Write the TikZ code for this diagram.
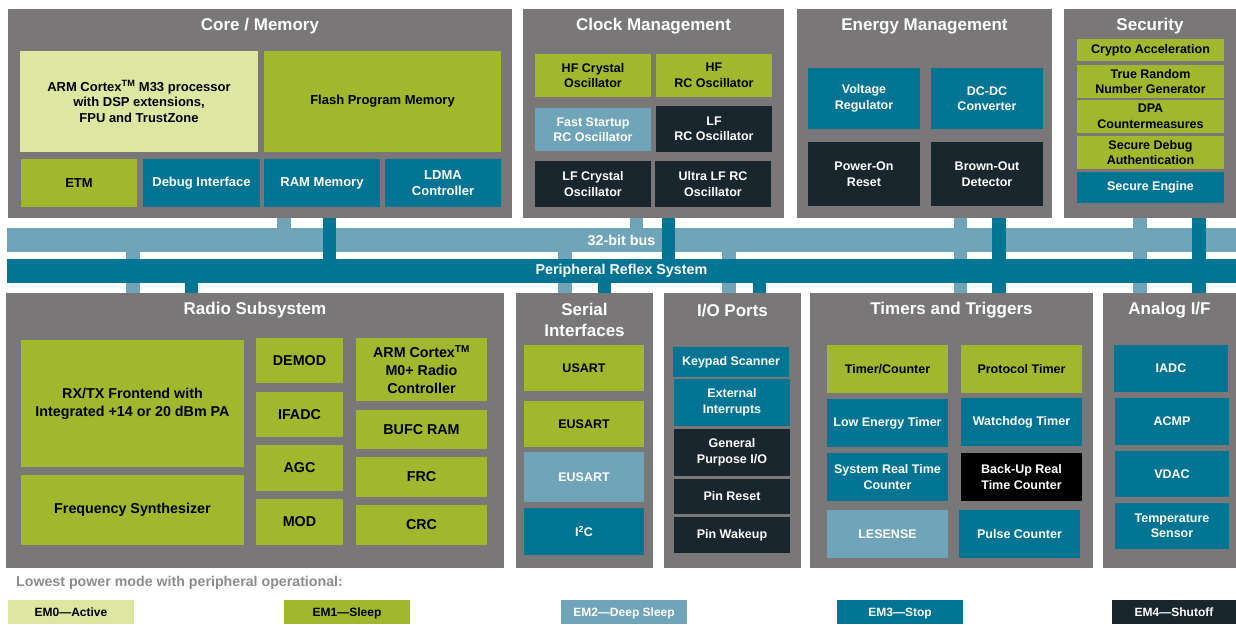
\documentclass[tikz,border=0pt]{standalone}
\usepackage{fontspec}
\setmainfont{Liberation Sans}
\usetikzlibrary{calc}

\definecolor{panelgray}{RGB}{122,119,120}
\definecolor{emzerocol}{RGB}{221,231,161}
\definecolor{emonecol}{RGB}{161,183,46}
\definecolor{emtwocol}{RGB}{112,164,185}
\definecolor{emthreecol}{RGB}{0,117,147}
\definecolor{emfourcol}{RGB}{26,38,46}
\definecolor{legendgray}{RGB}{140,140,140}

\tikzstyle{panel}=[rectangle,fill=panelgray,inner sep=0pt,outer sep=0pt,anchor=north west]
\tikzstyle{paneltitle}=[text=white,font=\bfseries\fontsize{17}{21}\selectfont,align=center,inner sep=0pt]
\tikzstyle{blk}=[rectangle,inner sep=0pt,outer sep=0pt,anchor=north west,align=center,font=\bfseries\fontsize{12.5}{15.5}\selectfont]
\tikzstyle{radiotext}=[font=\bfseries\fontsize{14.3}{18}\selectfont]
\tikzstyle{coretext}=[font=\bfseries\fontsize{13}{15.5}\selectfont]
\tikzstyle{em0}=[fill=emzerocol,text=black]
\tikzstyle{em1}=[fill=emonecol,text=black]
\tikzstyle{em2}=[fill=emtwocol,text=white]
\tikzstyle{em3}=[fill=emthreecol,text=white]
\tikzstyle{em4}=[fill=emfourcol,text=white]
\tikzstyle{em5}=[fill=black,text=white]
\tikzstyle{bus}=[rectangle,inner sep=0pt,outer sep=0pt,anchor=north west,text=white,font=\bfseries\fontsize{14.3}{16}\selectfont]
\tikzstyle{lightlink}=[draw=emtwocol,line width=13.5pt]
\tikzstyle{teallink}=[draw=emthreecol,line width=13.5pt]
\tikzstyle{legendhead}=[text=legendgray,font=\bfseries\fontsize{14.2}{16}\selectfont,anchor=west,inner sep=0pt]
\tikzstyle{legendbox}=[blk,font=\bfseries\fontsize{12}{14}\selectfont,text height=9pt,text depth=0.5pt,minimum height=24pt]

\begin{document}
\begin{tikzpicture}[x=1pt,y=-1pt]
    \useasboundingbox (0,0) rectangle (1236,624);

    % Grey group panels, upper row then lower row
    \foreach \xa/\ya/\xb/\yb/\name in {8/9/512/218/core, 523/9/784/218/clock, 797/9/1052/218/energy, 1064/9/1236/218/security,
        6/293/504/568/radio, 516/293/653/568/serial, 664/293/801/568/io, 810/293/1093/568/timers, 1103/293/1236/568/analog}
        \node[panel,minimum width={(\xb-\xa)*1pt},minimum height={(\yb-\ya)*1pt}] (\name) at (\xa,\ya) {};

    \foreach \name/\title in {core/{Core / Memory}, clock/{Clock Management}, energy/{Energy Management}, security/{Security},
        radio/{Radio Subsystem}, io/{I/O Ports}, timers/{Timers and Triggers}, analog/{Analog I/F}}
        \node[paneltitle] (\name title) at ([yshift=-17.5pt]\name.north) {\title};
    \node[paneltitle] (serialtitle) at ([yshift=-27pt]serial.north) {Serial\\Interfaces};

    % Core / Memory
    \foreach \xa/\ya/\xb/\yb/\sty/\name/\label in {
        20/51/258/152/em0/arm/{ARM Cortex\textsuperscript{TM} M33 processor\\with DSP extensions,\\FPU and TrustZone},
        264/51/501/152/em1/flash/{Flash Program Memory},
        21/159/137/207/em1/etm/{ETM},
        143/159/260/207/em3/debug/{Debug Interface},
        264/159/380/207/em3/ram/{RAM Memory},
        385/159/501/207/em3/ldma/{LDMA\\Controller}}
        \node[blk,coretext,\sty,minimum width={(\xb-\xa)*1pt},minimum height={(\yb-\ya)*1pt}] (\name) at (\xa,\ya) {\label};

    % Clock Management
    \foreach \xa/\ya/\xb/\yb/\sty/\name/\label in {
        535/54/651/97/em1/hfxo/{HF Crystal\\Oscillator},
        656/54/772/97/em1/hfrco/{HF\\RC Oscillator},
        535/108/651/151/em2/fsrco/{Fast Startup\\RC Oscillator},
        656/106/772/152/em4/lfrco/{LF\\RC Oscillator},
        535/161/651/207/em4/lfxo/{LF Crystal\\Oscillator},
        655/161/771/207/em4/ulfrco/{Ultra LF RC\\Oscillator}}
        \node[blk,\sty,minimum width={(\xb-\xa)*1pt},minimum height={(\yb-\ya)*1pt}] (\name) at (\xa,\ya) {\label};

    % Energy Management
    \foreach \xa/\ya/\xb/\yb/\sty/\name/\label in {
        808/68/920/129/em3/vreg/{Voltage\\Regulator},
        931/68/1043/129/em3/dcdc/{DC-DC\\Converter},
        808/142/920/206/em4/por/{Power-On\\Reset},
        931/142/1043/206/em4/bod/{Brown-Out\\Detector}}
        \node[blk,\sty,minimum width={(\xb-\xa)*1pt},minimum height={(\yb-\ya)*1pt}] (\name) at (\xa,\ya) {\label};

    % Security
    \foreach \xa/\ya/\xb/\yb/\sty/\name/\label in {
        1077/39/1224/61/em1/crypto/{Crypto Acceleration},
        1077/65/1224/98/em1/trng/{True Random\\Number Generator},
        1077/100/1224/133/em1/dpa/{DPA\\Countermeasures},
        1077/136/1224/169/em1/sdbg/{Secure Debug\\Authentication},
        1077/172/1224/203/em3/se/{Secure Engine}}
        \node[blk,\sty,minimum width={(\xb-\xa)*1pt},minimum height={(\yb-\ya)*1pt}] (\name) at (\xa,\ya) {\label};

    % Radio Subsystem
    \foreach \xa/\ya/\xb/\yb/\sty/\name/\label in {
        21/340/244/467/em1/rxtx/{RX/TX Frontend with\\Integrated +14 or 20 dBm PA},
        21/475/244/545/em1/synth/{Frequency Synthesizer},
        256/338/343/383/em1/demod/{DEMOD},
        256/392/343/437/em1/ifadc/{IFADC},
        256/445/343/491/em1/agc/{AGC},
        256/499/343/545/em1/mod/{MOD},
        356/338/487/401/em1/mzero/{ARM Cortex\textsuperscript{TM}\\M0+ Radio\\Controller},
        356/410/487/449/em1/bufc/{BUFC RAM},
        356/457/487/497/em1/frc/{FRC},
        356/505/487/545/em1/crc/{CRC}}
        \node[blk,radiotext,\sty,minimum width={(\xb-\xa)*1pt},minimum height={(\yb-\ya)*1pt}] (\name) at (\xa,\ya) {\label};

    % Serial Interfaces
    \foreach \xa/\ya/\xb/\yb/\sty/\name/\label in {
        524/345/644/391/em1/usart/{USART},
        524/401/644/447/em1/eusart/{EUSART},
        524/452/644/502/em2/eusartlp/{EUSART},
        524/508/644/555/em3/itwoc/{I\textsuperscript{2}C}}
        \node[blk,\sty,minimum width={(\xb-\xa)*1pt},minimum height={(\yb-\ya)*1pt}] (\name) at (\xa,\ya) {\label};

    % I/O Ports
    \foreach \xa/\ya/\xb/\yb/\sty/\name/\label in {
        673/347/789/377/em3/keypad/{Keypad Scanner},
        674/379/790/426/em3/extint/{External\\Interrupts},
        674/429/790/476/em4/gpio/{General\\Purpose I/O},
        674/479/790/514/em4/pinreset/{Pin Reset},
        674/517/790/553/em4/pinwake/{Pin Wakeup}}
        \node[blk,\sty,minimum width={(\xb-\xa)*1pt},minimum height={(\yb-\ya)*1pt}] (\name) at (\xa,\ya) {\label};

    % Timers and Triggers
    \foreach \xa/\ya/\xb/\yb/\sty/\name/\label in {
        827/345/948/393/em1/timer/{Timer/Counter},
        961/345/1082/393/em1/protimer/{Protocol Timer},
        827/399/948/447/em3/letimer/{Low Energy Timer},
        961/398/1082/446/em3/wdog/{Watchdog Timer},
        827/453/948/501/em3/sysrtc/{System Real Time\\Counter},
        961/453/1082/501/em5/burtc/{Back-Up Real\\Time Counter},
        827/510/948/558/em2/lesense/{LESENSE},
        959/510/1080/558/em3/pcnt/{Pulse Counter}}
        \node[blk,\sty,minimum width={(\xb-\xa)*1pt},minimum height={(\yb-\ya)*1pt}] (\name) at (\xa,\ya) {\label};

    % Analog I/F
    \foreach \xa/\ya/\xb/\yb/\sty/\name/\label in {
        1114/345/1228/392/em3/iadc/{IADC},
        1115/398/1229/445/em3/acmp/{ACMP},
        1115/451/1229/497/em3/vdac/{VDAC},
        1115/503/1229/549/em3/tsense/{Temperature\\Sensor}}
        \node[blk,\sty,minimum width={(\xb-\xa)*1pt},minimum height={(\yb-\ya)*1pt}] (\name) at (\xa,\ya) {\label};

    % 32-bit bus and its taps
    \node[bus,fill=emtwocol,minimum width=1229pt,minimum height=24pt] (bus32) at (7,228) {32-bit bus};
    \foreach \src/\x in {core/284, clock/636.5, energy/960.5, security/1140}
        \draw[lightlink] (\src.south -| \x,0) -- (bus32.north -| \x,0);
    \foreach \dst/\x in {radio/133, serial/565, io/729, timers/960.5, analog/1140}
        \draw[lightlink] (bus32.south -| \x,0) -- (\dst.north -| \x,0);

    % Peripheral Reflex System and its taps
    \node[bus,fill=emthreecol,minimum width=1229pt,minimum height=24pt] (prs) at (7,259) {Peripheral Reflex System};
    \foreach \src/\x in {core/329.5, clock/668.5, energy/999, security/1199}
        \draw[teallink] (\src.south -| \x,0) -- (prs.north -| \x,0);
    \foreach \dst/\x in {radio/191.5, serial/604.5, io/759.5, timers/999, analog/1199}
        \draw[teallink] (prs.south -| \x,0) -- (\dst.north -| \x,0);

    % Energy mode legend
    \node[legendhead] (legendhead) at (16,583) {Lowest power mode with peripheral operational:};
    \foreach \xa/\w/\sty/\name/\label in {8/126/em0/emzero/{EM0---Active}, 284/126/em1/emone/{EM1---Sleep},
        561/126/em2/emtwo/{EM2---Deep Sleep}, 837/126/em3/emthree/{EM3---Stop}, 1112/124/em4/emfour/{EM4---Shutoff}}
        \node[legendbox,\sty,minimum width=\w pt] (\name) at (\xa,600) {\label};
\end{tikzpicture}
\end{document}
